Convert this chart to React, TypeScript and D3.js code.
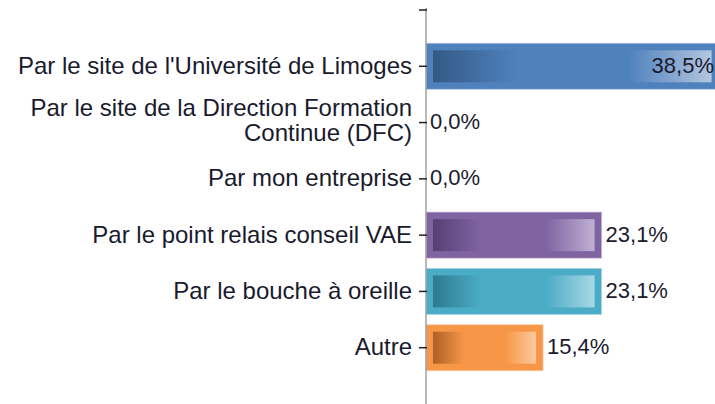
import React from "react";
import * as d3 from "d3";

const categories: string[][] = [
  ["Par le site de l'Université de Limoges"],
  ["Par le site de la Direction Formation", "Continue (DFC)"],
  ["Par mon entreprise"],
  ["Par le point relais conseil VAE"],
  ["Par le bouche à oreille"],
  ["Autre"],
];
const values = [38.5, 0, 0, 23.1, 23.1, 15.4];
const colors = ["#4F81BD", "#F79646", "#F79646", "#8064A2", "#4BACC6", "#F79646"];
const darkColors = ["#345a86", "#a55f25", "#a55f25", "#573f75", "#2e7b8f", "#ad6026"];
const lightColors = ["#b4c6e0", "#fbcfa8", "#fbcfa8", "#c0b0d3", "#a8d8e5", "#fbcaa0"];

const W = 715, H = 404;
const axisX = 426;
const FONT = "'Liberation Sans', Arial, sans-serif";

export default function App() {
  const x = d3.scaleLinear().domain([0, 10]).range([axisX, axisX + 76]);
  const y = d3.scaleLinear().domain([0, 7]).range([10, 404]);
  const barH = 46;
  const inset = 7;
  return (
    <svg width={W} height={H} style={{ position: "absolute", left: 0, top: 0 }}>
      <defs>
        {values.map((v, i) => (
          <linearGradient key={i} id={`g${i}`} x1="0" x2="1" y1="0" y2="0">
            <stop offset="0" stopColor={darkColors[i]} />
            <stop offset="0.3" stopColor={colors[i]} />
            <stop offset="0.7" stopColor={colors[i]} />
            <stop offset="1" stopColor={lightColors[i]} />
          </linearGradient>
        ))}
        <clipPath id="clip"><rect x={0} y={0} width={W} height={H} /></clipPath>
      </defs>
      <rect width={W} height={H} fill="#fff" />
      <g clipPath="url(#clip)">
        {values.map((v, i) => {
          if (v <= 0) return null;
          const cy = y(i + 1);
          const x0 = x(0), x1 = x(v);
          const w = x1 - x0;
          return (
            <g key={i}>
              <rect x={x0} y={cy - barH / 2} width={w} height={barH} fill={colors[i]} stroke={lightColors[i]} strokeOpacity={0.6} strokeWidth={1} />
              <rect x={x0 + inset} y={cy - barH / 2 + inset} width={Math.max(0, w - 2 * inset)} height={barH - 2 * inset} fill={`url(#g${i})`} />
            </g>
          );
        })}
      </g>
      <line x1={axisX} x2={axisX} y1={8} y2={404} stroke="#a0a0a0" strokeWidth={1.5} />
      <line x1={419} x2={427} y1={y(0)} y2={y(0)} stroke="#222" strokeWidth={1.5} />
      {categories.map((lines, i) => {
        const cy = y(i + 1);
        return (
          <g key={i}>
            <line x1={419} x2={427} y1={cy} y2={cy} stroke="#222" strokeWidth={1.5} />
            <text x={412} y={lines.length === 1 ? cy + 7.5 : cy - 6.5} textAnchor="end" fontFamily={FONT} fontSize={24} fill="#1a1a2e">
              {lines.map((l, k) => (
                <tspan key={k} x={412} dy={k === 0 ? 0 : 25}>{l}</tspan>
              ))}
            </text>
          </g>
        );
      })}
      {values.map((v, i) => {
        const cy = y(i + 1);
        const label = v.toFixed(1).replace(".", ",") + "%";
        const inside = x(v) > W - 5;
        return (
          <text key={i} x={inside ? W - 1 : x(v) + 4} y={cy + 6.5} textAnchor={inside ? "end" : "start"}
            fontFamily={FONT} fontSize={22} fill="#1a1a2e">{label}</text>
        );
      })}
    </svg>
  );
}
